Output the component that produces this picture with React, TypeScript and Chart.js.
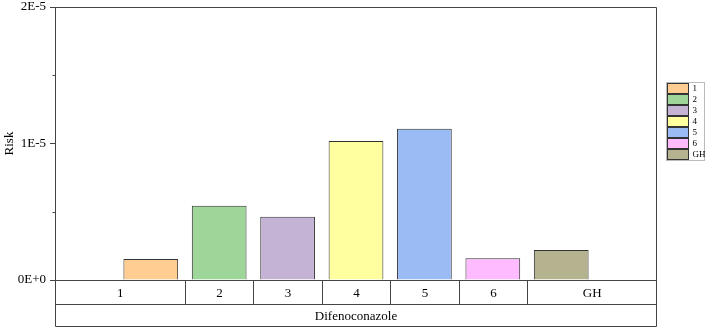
import React, { useEffect, useRef } from 'react';
import { Chart, registerables } from 'chart.js';

Chart.register(...registerables);

const categories = ['1', '2', '3', '4', '5', '6', 'GH'];
const riskValues = [1.54e-6, 5.44e-6, 4.64e-6, 10.18e-6, 11.08e-6, 1.59e-6, 2.2e-6];
const barColors = ['#FFCC91', '#9ED69A', '#C5B3D6', '#FFFFA0', '#9BBBF5', '#FFBBFF', '#B5B38F'];
const groupLabel = 'Difenoconazole';
const yTickLabels = ['0E+0', '1E-5', '2E-5'];
const yMinorTicks = [5e-6, 1.5e-5];
const yMin = 0;
const yMax = 2e-5;
const yStep = 1e-5;
const yTitle = 'Risk';

const FONT = '"Liberation Serif", "Times New Roman", serif';
const LINE = '#444444';

const tablePlugin = {
  id: 'tablePlugin',
  afterDraw(chart: any) {
    const ctx = chart.ctx;
    const ca = chart.chartArea;
    const xs = chart.scales.x;
    const ys = chart.scales.y;
    const L = Math.round(ca.left) + 0.5;
    const R = Math.round(ca.right) - 0.5;
    const T = Math.round(ca.top) + 0.5;
    const B = Math.round(ca.bottom) + 0.5;
    const y1 = B + 24;
    const y2 = B + 46;
    ctx.save();
    ctx.strokeStyle = LINE;
    ctx.lineWidth = 1;
    ctx.beginPath();
    ctx.moveTo(L, T); ctx.lineTo(R, T); ctx.lineTo(R, y2);
    ctx.moveTo(L, B); ctx.lineTo(R, B);
    ctx.moveTo(L, y1); ctx.lineTo(R, y1);
    ctx.moveTo(L, y2); ctx.lineTo(R, y2);
    ctx.moveTo(L, B); ctx.lineTo(L, y2);
    const bounds: number[] = [ca.left];
    for (let i = 0; i < categories.length - 1; i++) {
      const px = Math.round(xs.getPixelForValue(i + 1.5)) + 0.5;
      bounds.push(px);
      ctx.moveTo(px, B); ctx.lineTo(px, y1);
    }
    bounds.push(ca.right);
    yMinorTicks.forEach((v) => {
      const py = Math.round(ys.getPixelForValue(v)) + 0.5;
      ctx.moveTo(L - 3, py); ctx.lineTo(L, py);
    });
    ctx.stroke();

    ctx.fillStyle = '#000';
    ctx.font = `13px ${FONT}`;
    ctx.textAlign = 'center';
    ctx.textBaseline = 'middle';
    categories.forEach((c, i) => {
      ctx.fillText(c, (bounds[i] + bounds[i + 1]) / 2, (B + y1) / 2 + 1);
    });
    ctx.fillText(groupLabel, (ca.left + ca.right) / 2, (y1 + y2) / 2 + 1);

    const lx = 666.5;
    const ly = 82.5;
    const itemH = 11;
    const lw = 38;
    const lh = itemH * categories.length + 1;
    ctx.strokeStyle = '#BBBBBB';
    ctx.strokeRect(lx, ly, lw, lh);
    ctx.font = `9px ${FONT}`;
    ctx.textAlign = 'left';
    categories.forEach((c, i) => {
      const sy = ly + 1 + i * itemH;
      ctx.fillStyle = barColors[i];
      ctx.fillRect(lx + 1, sy, 21, 10);
      ctx.strokeStyle = '#333';
      ctx.strokeRect(lx + 1, sy, 21, 10);
      ctx.fillStyle = '#000';
      ctx.fillText(c, lx + 26, sy + 5.5);
    });
    ctx.restore();
  },
};

export default function App() {
  const ref = useRef<HTMLCanvasElement | null>(null);
  useEffect(() => {
    if (!ref.current) return;
    const chart = new Chart(ref.current, {
      type: 'bar',
      data: {
        datasets: [
          {
            data: riskValues.map((v, i) => ({ x: i + 1, y: v })),
            backgroundColor: barColors,
            borderColor: '#333333',
            borderWidth: 1,
            categoryPercentage: 0.8,
            barPercentage: 1.0,
          },
        ],
      },
      options: {
        animation: false,
        responsive: true,
        maintainAspectRatio: false,
        layout: { padding: { left: 0, top: 7, right: 50, bottom: 50 } },
        plugins: { legend: { display: false }, tooltip: { enabled: false } },
        scales: {
          x: {
            type: 'linear',
            min: -0.4,
            max: 8.4,
            offset: false,
            display: false,
          },
          y: {
            min: yMin,
            max: yMax,
            afterFit(scale: any) {
              scale.width = 55;
              scale.paddingTop = 0;
              scale.paddingBottom = 0;
            },
            afterBuildTicks(scale: any) {
              scale.ticks = yTickLabels.map((_, i) => ({ value: yMin + i * yStep }));
            },
            ticks: {
              color: '#000',
              font: { family: FONT, size: 13 },
              padding: 4,
              callback: (_v: any, i: number) => yTickLabels[i],
            },
            grid: {
              drawOnChartArea: false,
              drawTicks: true,
              tickLength: 5,
              color: LINE,
            },
            border: { display: true, color: LINE },
            title: {
              display: true,
              text: yTitle,
              color: '#000',
              font: { family: FONT, size: 13 },
              padding: { top: 2, bottom: 0 },
            },
          },
        },
      },
      plugins: [tablePlugin],
    } as any);
    return () => chart.destroy();
  }, []);
  return (
    <div style={{ position: 'fixed', left: 0, top: 0, width: 707, height: 330, background: '#fff' }}>
      <canvas ref={ref} />
    </div>
  );
}
